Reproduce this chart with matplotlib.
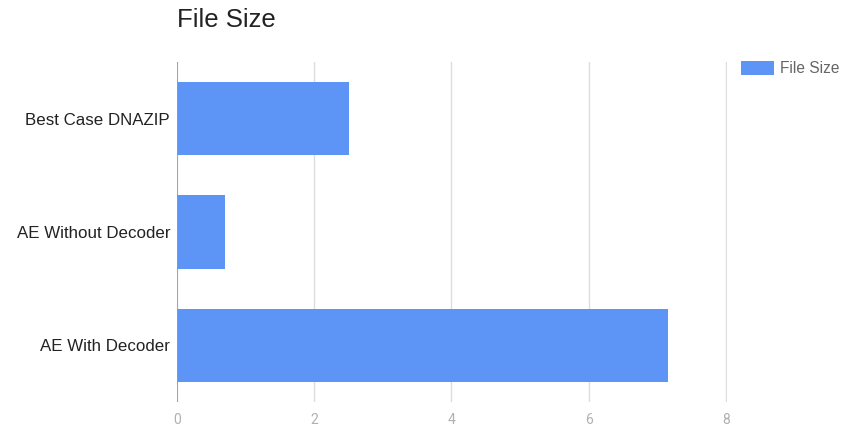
import numpy as np
import matplotlib
matplotlib.use('Agg')
import matplotlib.pyplot as plt

# data
categories = ['Best Case DNAZIP', 'AE Without Decoder', 'AE With Decoder']
file_size = [2.5, 0.7, 7.16]
x_ticks = [0, 2, 4, 6, 8]

plt.rcParams['font.family'] = ['Liberation Sans', 'DejaVu Sans']

fig = plt.figure(figsize=(8.44, 4.26), dpi=100)
ax = fig.add_axes([177 / 844, 24 / 426, 550 / 844, 340 / 426])

y_pos = np.arange(len(categories))
ax.barh(y_pos, file_size, height=0.645, color='#5c95f5', label='File Size', zorder=2)

ax.set_ylim(len(categories) - 0.5, -0.5)
ax.set_xlim(0, 8.015)
ax.set_yticks(y_pos)
ax.set_yticklabels(categories, fontsize=12.2, color='#222222')
ax.set_xticks(x_ticks)
ax.set_xticklabels([str(t) for t in x_ticks], fontsize=10, color='#b0b0b0', family='Roboto')
ax.tick_params(axis='both', length=0)
ax.tick_params(axis='y', pad=5)
ax.tick_params(axis='x', pad=8)

# gridlines
ax.grid(axis='x', color='#dddddd', linewidth=1, zorder=0)
ax.axvline(0, color='#999999', linewidth=1.2, zorder=3)
for s in ax.spines.values():
    s.set_visible(False)

# title
fig.text(177 / 844, 1 - 20 / 426, 'File Size', fontsize=18.5, color='#222222', va='center', ha='left')

# legend
ax.legend(loc='upper left', bbox_to_anchor=(741 / 844, 1 - 61 / 426), bbox_transform=fig.transFigure,
          frameon=False, fontsize=11.2, handlelength=2.1, handleheight=1.0, handletextpad=0.4,
          borderaxespad=0, borderpad=0, labelcolor='#666666')

fig.savefig('out.png', dpi=100)
